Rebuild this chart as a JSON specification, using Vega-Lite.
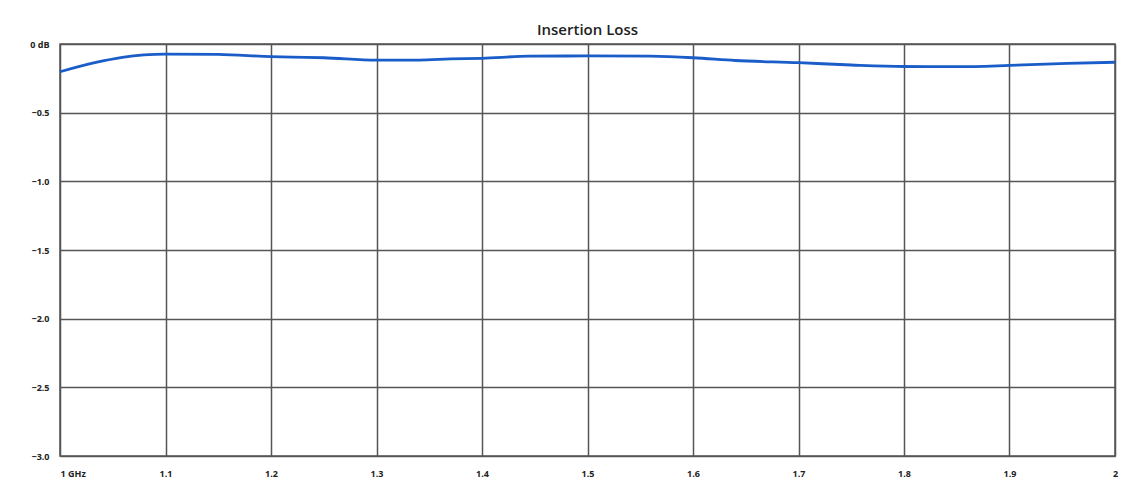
{
  "$schema": "https://vega.github.io/schema/vega-lite/v6.json",
  "width": 1055,
  "height": 412,
  "autosize": {"type": "none"},
  "padding": {"left": 60, "top": 44, "right": 10, "bottom": 27},
  "background": "white",
  "title": {
    "text": "Insertion Loss",
    "font": "Open Sans",
    "fontSize": 15,
    "fontWeight": 600,
    "color": "#222",
    "offset": 2,
    "anchor": "middle"
  },
  "config": {
    "view": {"stroke": "#555", "strokeWidth": 1.5}
  },
  "data": {
    "values": [
      {"f": 1.0, "db": -0.202},
      {"f": 1.033, "db": -0.136},
      {"f": 1.059, "db": -0.097},
      {"f": 1.1, "db": -0.073},
      {"f": 1.15, "db": -0.076},
      {"f": 1.2, "db": -0.092},
      {"f": 1.233, "db": -0.097},
      {"f": 1.25, "db": -0.1},
      {"f": 1.3, "db": -0.117},
      {"f": 1.34, "db": -0.117},
      {"f": 1.37, "db": -0.109},
      {"f": 1.4, "db": -0.104},
      {"f": 1.445, "db": -0.089},
      {"f": 1.5, "db": -0.087},
      {"f": 1.56, "db": -0.089},
      {"f": 1.6, "db": -0.1},
      {"f": 1.64, "db": -0.12},
      {"f": 1.7, "db": -0.136},
      {"f": 1.75, "db": -0.153},
      {"f": 1.8, "db": -0.164},
      {"f": 1.85, "db": -0.165},
      {"f": 1.9, "db": -0.156},
      {"f": 1.955, "db": -0.141},
      {"f": 2.0, "db": -0.133}
    ]
  },
  "mark": {"type": "line", "color": "#1a5cc8", "strokeWidth": 2.8, "interpolate": "monotone"},
  "encoding": {
    "x": {
      "field": "f",
      "type": "quantitative",
      "scale": {"domain": [1, 2], "nice": false, "zero": false},
      "axis": {
        "title": null,
        "values": [1, 1.1, 1.2, 1.3, 1.4, 1.5, 1.6, 1.7, 1.8, 1.9, 2],
        "labelExpr": "datum.value == 1 ? '1 GHz' : format(datum.value, '~g')",
        "labelAlign": {"condition": {"test": "datum.value == 1", "value": "left"}, "value": "center"},
        "labelFont": "Open Sans",
        "labelFontSize": 9,
        "labelFontWeight": "bold",
        "labelColor": "#222",
        "labelPadding": 13,
        "ticks": false,
        "domain": false,
        "grid": true,
        "gridColor": "#555",
        "gridWidth": 1.5,
        "gridOpacity": 1
      }
    },
    "y": {
      "field": "db",
      "type": "quantitative",
      "scale": {"domain": [-3, 0], "nice": false},
      "axis": {
        "title": null,
        "values": [0, -0.5, -1, -1.5, -2, -2.5, -3],
        "labelExpr": "datum.value == 0 ? '0 dB' : format(datum.value, '.1f')",
        "labelFont": "Open Sans",
        "labelFontSize": 9,
        "labelFontWeight": "bold",
        "labelColor": "#222",
        "labelPadding": 11,
        "ticks": false,
        "domain": false,
        "grid": true,
        "gridColor": "#555",
        "gridWidth": 1.5,
        "gridOpacity": 1
      }
    }
  }
}
